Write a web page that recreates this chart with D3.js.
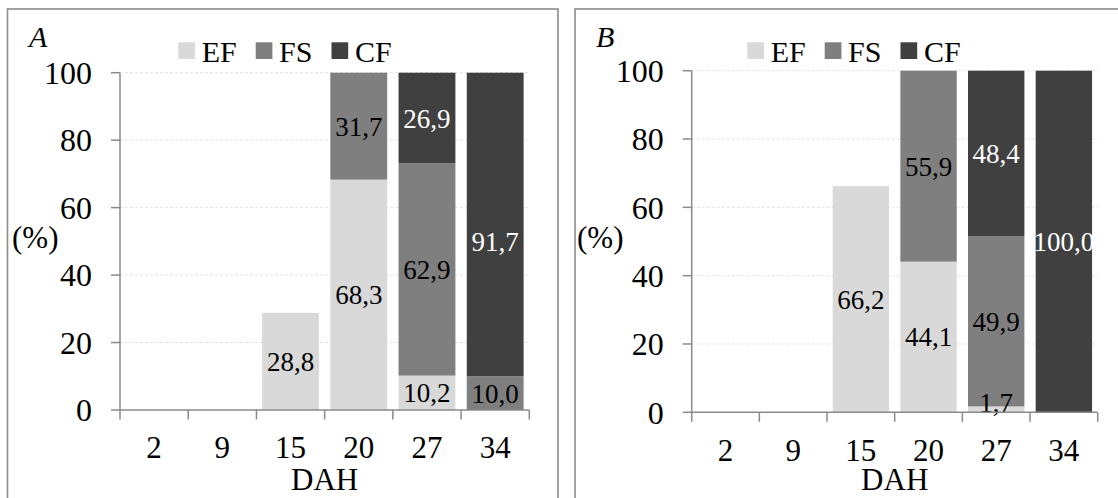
<!DOCTYPE html>
<html>
<head>
<meta charset="utf-8">
<script src="https://cdn.jsdelivr.net/npm/d3@7/dist/d3.min.js"></script>
<style>
  html, body { margin: 0; padding: 0; background: #fff; }
  svg { display: block; }
</style>
</head>
<body>
<svg id="chart" width="1118" height="498" font-family="Liberation Serif, Times New Roman, serif"></svg>
<script>
// ---- data ----
const categories = ["2", "9", "15", "20", "27", "34"];
const seriesNames = ["EF", "FS", "CF"];
const seriesColors = ["#d9d9d9", "#7f7f7f", "#404040"];
const labelColors = ["#000000", "#000000", "#ffffff"];
const yTicks = [0, 20, 40, 60, 80, 100];
const xTitle = "DAH";
const yTitle = "(%)";

const efA = [0, 0, 28.8, 68.3, 10.2, 0];
const fsA = [0, 0, 0, 31.7, 62.9, 10.0];
const cfA = [0, 0, 0, 0, 26.9, 91.7];

const efB = [0, 0, 66.2, 44.1, 1.7, 0];
const fsB = [0, 0, 0, 55.9, 49.9, 0];
const cfB = [0, 0, 0, 0, 48.4, 100.0];

// ---- layout ----
const svg = d3.select("#chart");
const axisColor = "#8a8a8a";

const panels = [
  { tag: "A", ef: efA, fs: fsA, cf: cfA,
    box: [7.5, 9, 550.5, 520], x0: 120, x1: 529.3, yTop: 72.7, yBot: 410,
    tagX: 29, yTitleX: 12, legendX: 178.3 },
  { tag: "B", ef: efB, fs: fsB, cf: cfB,
    box: [575, 9, 600, 520], x0: 691.7, x1: 1097.7, yTop: 70.7, yBot: 412.3,
    tagX: 596, yTitleX: 577, legendX: 747.3 }
];

const fmt = v => d3.format(".1f")(v).replace(".", ",");

panels.forEach(p => {
  const g = svg.append("g");

  // panel frame
  g.append("rect")
    .attr("x", p.box[0]).attr("y", p.box[1])
    .attr("width", p.box[2]).attr("height", p.box[3])
    .attr("fill", "none").attr("stroke", "#8c8c8c").attr("stroke-width", 1.6);

  const x = d3.scaleBand().domain(categories).range([p.x0, p.x1]).paddingInner(0).paddingOuter(0);
  const y = d3.scaleLinear().domain([0, 100]).range([p.yBot, p.yTop]).clamp(true);
  const barW = x.bandwidth() / 1.2;

  // gridlines
  g.selectAll(".grid").data(yTicks.filter(t => t > 0)).join("line")
    .attr("x1", p.x0).attr("x2", p.x1)
    .attr("y1", d => y(d)).attr("y2", d => y(d))
    .attr("stroke", "#e3e3e3").attr("stroke-width", 1).attr("stroke-dasharray", "3,2");

  // stacked data
  const rows = categories.map((c, i) => ({ cat: c, EF: p.ef[i], FS: p.fs[i], CF: p.cf[i] }));
  const stacked = d3.stack().keys(seriesNames)(rows);

  stacked.forEach((layer, si) => {
    g.selectAll(".bar" + si).data(layer.filter(d => d[1] - d[0] > 0)).join("rect")
      .attr("x", d => x(d.data.cat) + (x.bandwidth() - barW) / 2)
      .attr("width", barW)
      .attr("y", d => y(d[1]))
      .attr("height", d => y(d[0]) - y(d[1]))
      .attr("fill", seriesColors[si]);
  });

  // data labels
  stacked.forEach((layer, si) => {
    g.selectAll(".lab" + si).data(layer.filter(d => d[1] - d[0] > 0)).join("text")
      .attr("x", d => x(d.data.cat) + x.bandwidth() / 2)
      .attr("y", d => {
        let mid = d[1] > 100 ? 50 : (d[0] + d[1]) / 2;
        let py = y(mid);
        return Math.min(py, p.yBot - 9.5);
      })
      .attr("dy", "0.35em")
      .attr("text-anchor", "middle")
      .attr("font-size", 27)
      .attr("fill", labelColors[si])
      .text(d => fmt(d[1] - d[0]));
  });

  // y axis
  g.append("line").attr("x1", p.x0).attr("x2", p.x0).attr("y1", p.yBot).attr("y2", p.yTop)
    .attr("stroke", axisColor).attr("stroke-width", 1.5);
  g.selectAll(".ytick").data(yTicks).join("line")
    .attr("x1", p.x0 - 9).attr("x2", p.x0)
    .attr("y1", d => y(d)).attr("y2", d => y(d))
    .attr("stroke", axisColor).attr("stroke-width", 1.5);
  g.selectAll(".ylab").data(yTicks).join("text")
    .attr("x", p.x0 - 28).attr("y", d => y(d)).attr("dy", "0.35em")
    .attr("text-anchor", "end").attr("font-size", 32).attr("fill", "#000")
    .text(d => d);

  // x axis
  g.append("line").attr("x1", p.x0).attr("x2", p.x1).attr("y1", p.yBot).attr("y2", p.yBot)
    .attr("stroke", axisColor).attr("stroke-width", 1.5);
  const bounds = categories.map(c => x(c)).concat([p.x1]);
  g.selectAll(".xtick").data(bounds).join("line")
    .attr("x1", d => d).attr("x2", d => d)
    .attr("y1", p.yBot).attr("y2", p.yBot + 9.5)
    .attr("stroke", axisColor).attr("stroke-width", 1.5);
  g.selectAll(".xlab").data(categories).join("text")
    .attr("x", d => x(d) + x.bandwidth() / 2).attr("y", p.yBot + 48.3)
    .attr("text-anchor", "middle").attr("font-size", 31).attr("fill", "#000")
    .text(d => d);

  // axis titles
  g.append("text").attr("x", (p.x0 + p.x1) / 2).attr("y", 490)
    .attr("text-anchor", "middle").attr("font-size", 31).attr("fill", "#000").text(xTitle);
  g.append("text").attr("x", p.yTitleX).attr("y", 248)
    .attr("font-size", 31).attr("fill", "#000").text(yTitle);

  // panel tag
  g.append("text").attr("x", p.tagX).attr("y", 46.7)
    .attr("font-size", 30).attr("font-style", "italic").attr("fill", "#000").text(p.tag);

  // legend
  let lx = p.legendX;
  seriesNames.forEach((s, i) => {
    g.append("rect").attr("x", lx).attr("y", 42.3).attr("width", 16.7).attr("height", 16.7)
      .attr("fill", seriesColors[i]);
    const t = g.append("text").attr("x", lx + 23.4).attr("y", 61.7)
      .attr("font-size", 30).attr("fill", "#000").text(s);
    lx = lx + 23.4 + t.node().getComputedTextLength() + 19;
  });
});
</script>
</body>
</html>
